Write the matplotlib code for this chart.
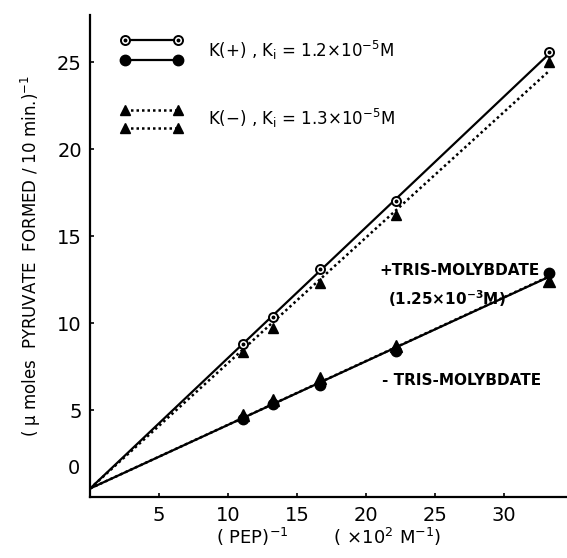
import numpy as np
import matplotlib.pyplot as plt

plt.rcParams['font.family'] = 'DejaVu Sans'
plt.rcParams['mathtext.default'] = 'regular'

# 1/[PEP] values (x 10^2 M^-1)
inv_pep = [11.1, 13.3, 16.7, 22.2, 33.3]

# K(+) with and without tris-molybdate
kplus_tris = [8.78, 10.33, 13.1, 17.0, 25.6]
kplus_ctrl = [4.52, 5.34, 6.44, 8.4, 12.9]

# K(-) with and without tris-molybdate
kminus_tris = [8.35, 9.7, 12.3, 16.2, 25.0]
kminus_ctrl = [4.7, 5.57, 6.82, 8.7, 12.4]

# y-intercept (all lines meet near here)
y_intercept = 0.5

fig = plt.figure(figsize=(5.67, 5.58), dpi=100)
ax = fig.add_axes([0.159, 0.109, 0.841, 0.864])


def fit_line(x, y):
    # straight line forced through the common intercept
    x = np.asarray(x)
    y = np.asarray(y) - y_intercept
    k = np.sum(x * y) / np.sum(x * x)
    xx = np.array([0, x[-1]])
    return xx, k * xx + y_intercept


# solid lines: K(+)
for yv in [kplus_tris, kplus_ctrl]:
    xx, yy = fit_line(inv_pep, yv)
    ax.plot(xx, yy, color='black', lw=1.6, zorder=2)
# dotted lines: K(-)
for yv in [kminus_tris, kminus_ctrl]:
    xx, yy = fit_line(inv_pep, yv)
    ax.plot(xx, yy, color='black', lw=1.8, ls=(0, (1, 1.2)), zorder=2)

# markers
ax.plot(inv_pep, kminus_tris, '^', ms=7, color='black', zorder=3)
ax.plot(inv_pep, kminus_ctrl, '^', ms=8, color='black', zorder=3)
ax.plot(inv_pep, kplus_tris, 'o', ms=6.5, mfc='white', mec='black', mew=1.4, zorder=4)
ax.plot(inv_pep, kplus_tris, 'o', ms=1.8, color='black', zorder=5)
ax.plot(inv_pep, kplus_ctrl, 'o', ms=7.5, color='black', zorder=4)

# hand-drawn style legend
tr = ax.transAxes
ax.plot([0.073, 0.185], [0.948, 0.948], '-', color='black', lw=1.6, transform=tr)
ax.plot([0.073, 0.185], [0.948, 0.948], 'o', ms=6.5, mfc='white', mec='black', mew=1.4, transform=tr)
ax.plot([0.073, 0.185], [0.948, 0.948], 'o', ms=1.8, color='black', transform=tr)
ax.plot([0.073, 0.185], [0.907, 0.907], 'o-', ms=7.5, color='black', lw=1.6, transform=tr)
ax.plot([0.073, 0.185], [0.803, 0.803], '^', ms=6.5, color='black', ls=(0, (1, 1.2)), lw=1.8, transform=tr)
ax.plot([0.073, 0.185], [0.766, 0.766], '^', ms=7, color='black', ls=(0, (1, 1.2)), lw=1.8, transform=tr)
ax.text(0.248, 0.927, r'K(+) , K$_i$ = 1.2$\times$10$^{-5}$M', transform=tr,
        fontsize=12, va='center', ha='left')
ax.text(0.248, 0.786, r'K($-$) , K$_i$ = 1.3$\times$10$^{-5}$M', transform=tr,
        fontsize=12, va='center', ha='left')

# curve annotations
ax.text(21.0, 13.0, '+TRIS-MOLYBDATE', fontsize=11, fontweight='bold', va='center')
ax.text(21.6, 11.4, r'(1.25$\times$10$^{-3}$M)', fontsize=11, fontweight='bold', va='center')
ax.text(21.2, 6.7, '- TRIS-MOLYBDATE', fontsize=11, fontweight='bold', va='center')

ax.set_xlim(0, 34.6)
ax.set_ylim(0, 27.7)
ax.set_xticks([0, 5, 10, 15, 20, 25, 30])
ax.set_xticklabels(['', '5', '10', '15', '20', '25', '30'])
ax.set_yticks([0, 5, 10, 15, 20, 25])
ax.set_yticklabels(['', '5', '10', '15', '20', '25'])
ax.text(-0.035, 0.06, '0', transform=tr, fontsize=14, ha='center', va='center')
ax.tick_params(direction='in', length=3, width=1.2, labelsize=14, pad=6)
for s in ['top', 'right']:
    ax.spines[s].set_visible(False)
for s in ['left', 'bottom']:
    ax.spines[s].set_linewidth(1.6)

ax.set_xlabel(r'( PEP)$^{-1}$        ( $\times$10$^2$ M$^{-1}$)', fontsize=13, labelpad=1)
ax.set_ylabel(r'( $\mu$ moles  PYRUVATE  FORMED / 10 min.)$^{-1}$', fontsize=12, labelpad=10)

fig.savefig('out.png', dpi=100)
